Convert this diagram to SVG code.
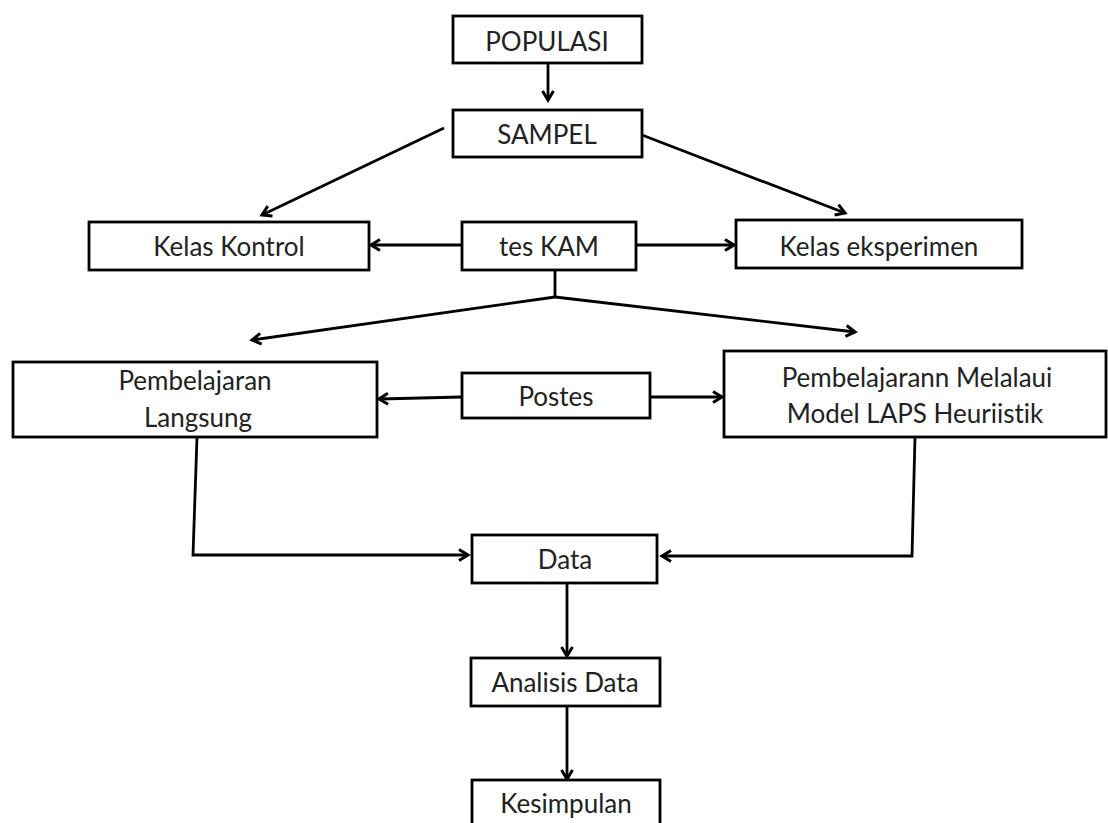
<svg xmlns="http://www.w3.org/2000/svg" width="1108" height="823" viewBox="0 0 1108 823">
<style>
.box{fill:#fff;stroke:#000;stroke-width:2.8}
.t{font-family:Lato,"Open Sans","Liberation Sans",sans-serif;font-size:26px;fill:#222;text-anchor:middle;font-variant-ligatures:none;font-feature-settings:"liga" 0,"dlig" 0}
.c{fill:none;stroke:#000;stroke-width:2.8;marker-end:url(#a)}
.p{fill:none;stroke:#000;stroke-width:2.8}
</style>
<defs>
<marker id="a" markerWidth="14" markerHeight="14" refX="11" refY="7" orient="auto" markerUnits="userSpaceOnUse">
<polyline points="2,1.5 11,7 2,12.5" fill="none" stroke="#000" stroke-width="3"/>
</marker>
</defs>
<rect width="1108" height="823" fill="#fff"/>
<g id="connectors">
<line class="c" x1="548" y1="63" x2="548" y2="100"/>
<line class="c" x1="444" y1="128" x2="262" y2="215"/>
<line class="c" x1="642" y1="135" x2="845" y2="213"/>
<line class="c" x1="462" y1="245" x2="371" y2="245"/>
<line class="c" x1="636" y1="245" x2="734" y2="245"/>
<line class="p" x1="555" y1="270" x2="555" y2="297"/>
<line class="c" x1="555" y1="297" x2="252" y2="340"/>
<line class="c" x1="555" y1="297" x2="855" y2="332"/>
<line class="c" x1="462" y1="397" x2="379" y2="399"/>
<line class="c" x1="650" y1="397" x2="722" y2="397"/>
<polyline class="c" points="197,437 193,555 468,555"/>
<polyline class="c" points="915,437 912,556 662,556"/>
<line class="c" x1="567" y1="583" x2="567" y2="656"/>
<line class="c" x1="567" y1="706" x2="567" y2="779"/>
</g>
<g id="populasi"><rect class="box" x="453" y="16" width="189" height="47"/><text class="t" x="547" y="51">POPULASI</text></g>
<g id="sampel"><rect class="box" x="453" y="110" width="189" height="47"/><text class="t" x="547" y="144">SAMPEL</text></g>
<g id="kelas-kontrol"><rect class="box" x="89" y="222" width="280" height="48"/><text class="t" x="229" y="256">Kelas Kontrol</text></g>
<g id="tes-kam"><rect class="box" x="462" y="222" width="174" height="48"/><text class="t" x="549" y="256">tes KAM</text></g>
<g id="kelas-eksperimen"><rect class="box" x="736" y="220" width="286" height="48"/><text class="t" x="879" y="256">Kelas eksperimen</text></g>
<g id="pembelajaran-langsung"><rect class="box" x="13" y="362" width="364" height="75"/><text class="t" x="195" y="390">Pembelajaran</text><text class="t" x="198" y="427">Langsung</text></g>
<g id="postes"><rect class="box" x="462" y="373" width="188" height="45"/><text class="t" x="556" y="406">Postes</text></g>
<g id="pembelajaran-laps"><rect class="box" x="724" y="351" width="382" height="86"/><text class="t" x="917" y="387">Pembelajarann Melalaui</text><text class="t" x="915" y="423">Model LAPS Heuriistik</text></g>
<g id="data"><rect class="box" x="472" y="535" width="185" height="48"/><text class="t" x="565" y="569">Data</text></g>
<g id="analisis-data"><rect class="box" x="471" y="658" width="189" height="48"/><text class="t" x="565" y="692">Analisis Data</text></g>
<g id="kesimpulan"><rect class="box" x="472" y="780" width="188" height="50"/><text class="t" x="566" y="813">Kesimpulan</text></g>
</svg>
